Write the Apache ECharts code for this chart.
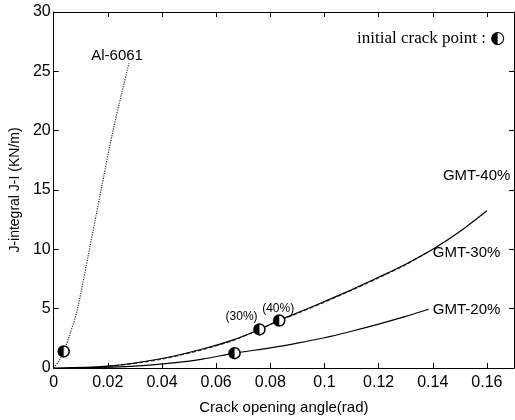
<!DOCTYPE html>
<html><head><meta charset="utf-8">
<script src="https://cdn.jsdelivr.net/npm/echarts@6/dist/echarts.min.js"></script>
<style>html,body{margin:0;padding:0;background:#fff}#c{width:515px;height:420px}</style>
</head><body><div id="c"></div>
<script>
// Data (angle in rad, J-integral in KN/m)
const al6061 = [[0,0],[0.002,0.6],[0.0037,1.4],[0.0055,2.5],[0.0088,5],[0.0132,10],[0.0175,15],[0.0219,20],[0.0278,25.7]];
const gmt40 = [[0,0],[0.02,0.15],[0.04,0.8],[0.055,1.6],[0.066,2.35],[0.076,3.25],[0.083,4.0],[0.09,4.65],[0.10,5.6],[0.11,6.6],[0.12,7.65],[0.13,8.75],[0.14,10.0],[0.15,11.5],[0.16,13.25]];
const gmt30 = [[0.005,0],[0.02,0.12],[0.04,0.75],[0.055,1.55],[0.066,2.3],[0.076,3.25],[0.083,3.95],[0.09,4.6],[0.10,5.55],[0.11,6.55],[0.12,7.6],[0.13,8.7],[0.138,9.75]];
const gmt20 = [[0.01,0],[0.03,0.15],[0.045,0.45],[0.055,0.75],[0.0668,1.25],[0.08,1.7],[0.09,2.1],[0.10,2.55],[0.11,3.1],[0.12,3.7],[0.13,4.35],[0.1385,4.95]];
const crackPoints = [[0.0037,1.4],[0.0668,1.25],[0.076,3.25],[0.0833,4.0]];
const annotations = [
  {text:'Al-6061', x:0.0234, y:26.3, size:15},
  {text:'GMT-40%', x:0.1562, y:16.2, size:15},
  {text:'GMT-30%', x:0.1525, y:9.67, size:15},
  {text:'GMT-20%', x:0.1525, y:4.9, size:15},
  {text:'(30%)', x:0.0694, y:4.3, size:12},
  {text:'(40%)', x:0.0829, y:5.0, size:12}
];
const xTicks = {min:0, max:0.17, interval:0.02};
const yTicks = {min:0, max:30, interval:5};
const xName = 'Crack opening angle(rad)';
const yName = 'J-integral J-I (KN/m)';
const noteText = 'initial crack point : ';
const noteSymbol = '◐';

const chart = echarts.init(document.getElementById('c'));
const font = '"Liberation Sans", Arial, sans-serif';
const axisCommon = {
  axisLine:{show:true, onZero:false, lineStyle:{color:'#000', width:1}},
  axisTick:{show:true, inside:true, length:5, lineStyle:{color:'#000'}},
  splitLine:{show:false}
};
const halfPath = 'path://M1,0 A1,1 0 0,0 1,2 Z';
chart.setOption({
  animation:false,
  backgroundColor:'#fff',
  grid:{left:49, right:1, top:12, bottom:47, containLabel:false},
  xAxis:[
    Object.assign({type:'value', position:'bottom', min:xTicks.min, max:xTicks.max, interval:xTicks.interval,
      name:xName, nameLocation:'middle', nameGap:32,
      nameTextStyle:{fontFamily:font, fontSize:15, color:'#000'},
      axisLabel:{fontFamily:font, fontSize:16, color:'#000', margin:7, showMaxLabel:false}}, axisCommon),
    Object.assign({type:'value', position:'top', min:xTicks.min, max:xTicks.max, interval:xTicks.interval,
      axisLabel:{show:false}}, axisCommon)
  ],
  yAxis:[
    Object.assign({type:'value', position:'left', min:yTicks.min, max:yTicks.max, interval:yTicks.interval,
      name:yName, nameLocation:'middle', nameGap:29,
      nameTextStyle:{fontFamily:font, fontSize:14, color:'#000'},
      axisLabel:{fontFamily:font, fontSize:16, color:'#000', margin:3}}, axisCommon),
    Object.assign({type:'value', position:'right', min:yTicks.min, max:yTicks.max, interval:yTicks.interval,
      axisLabel:{show:false}}, axisCommon)
  ],
  series:[
    {type:'line', data:al6061, smooth:0.3, symbol:'none', lineStyle:{color:'#333', width:1.2, type:'dotted'}},
    {type:'line', data:gmt30, smooth:0.3, symbol:'none', lineStyle:{color:'#444', width:1.2, type:[4,2]}},
    {type:'line', data:gmt40, smooth:0.3, symbol:'none', lineStyle:{color:'#000', width:1.2}},
    {type:'line', data:gmt20, smooth:0.3, symbol:'none', lineStyle:{color:'#000', width:1.2}},
    {type:'scatter', data:crackPoints, symbol:'circle', symbolSize:11, z:5,
      itemStyle:{color:'#fff', borderColor:'#000', borderWidth:1.5, opacity:1}},
    {type:'scatter', data:crackPoints, symbol:halfPath, symbolSize:[5.5,11], symbolOffset:[-2.75,0], z:6,
      itemStyle:{color:'#000', opacity:1}},
    {type:'scatter', symbolSize:0, z:7, emphasis:{disabled:true}, itemStyle:{opacity:1},
      data:annotations.map(a=>({value:[a.x,a.y], name:a.text,
        label:{show:true, position:'inside', formatter:a.text, fontFamily:font, color:'#000',
          textBorderWidth:0, fontSize:a.size}}))}
  ],
  graphic:[{type:'text', right:10, top:30, style:{
    text:'{a|'+noteText+'}{b|'+noteSymbol+'}',
    rich:{a:{fontFamily:'"Liberation Serif", "Times New Roman", serif', fontSize:17, fill:'#000', color:'#000'},
          b:{fontFamily:'"DejaVu Sans", sans-serif', fontSize:17, fill:'#000', color:'#000'}},
    fill:'#000'}}]
});
</script></body></html>
